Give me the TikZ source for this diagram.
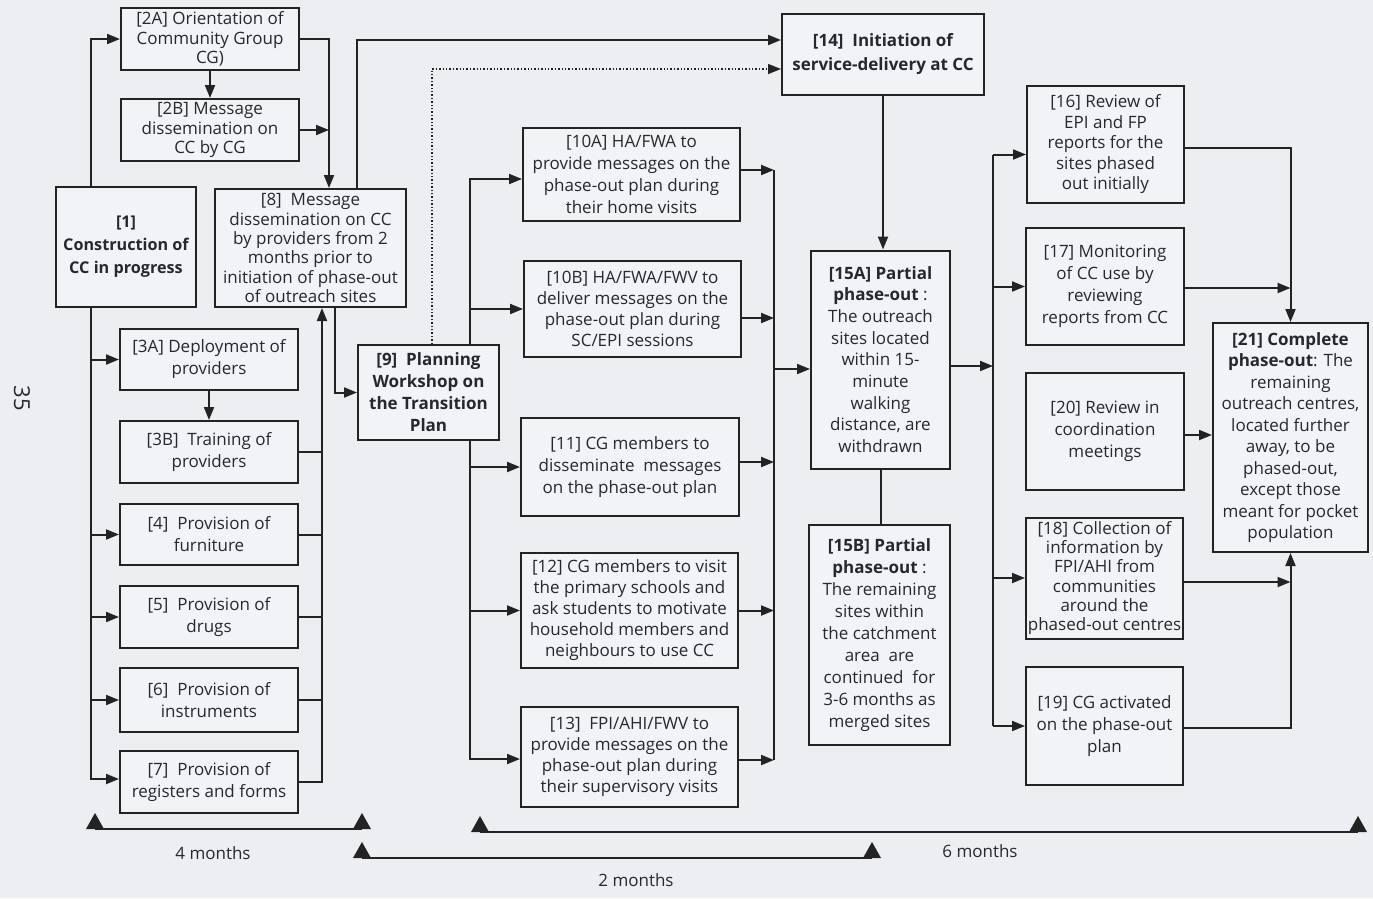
\documentclass[tikz,border=0pt]{standalone}
\usepackage{fontspec}
\setmainfont{Open Sans}
\usetikzlibrary{arrows.meta,calc}
\definecolor{bg}{RGB}{236,238,241}
\definecolor{boxbg}{RGB}{241,243,246}
\definecolor{ink}{RGB}{35,35,35}
\definecolor{txt}{RGB}{40,40,44}
\tikzset{
  box/.style={draw=ink, line width=2pt, fill=boxbg, text=txt, align=center, inner sep=0pt, font=\fontsize{17}{21}\selectfont},
  sz/.style 2 args={minimum width=#1pt, minimum height=#2pt},
  ls/.style={font=\fontsize{17}{#1}\selectfont},
  bls/.style={font=\fontsize{17}{#1}\selectfont\bfseries},
  arr/.style={draw=ink, line width=2pt, -{Triangle[length=13pt,width=10pt]}},
  ln/.style={draw=ink, line width=2pt},
  dotarr/.style={draw=ink, line width=1.4pt, dotted, -{Triangle[length=13pt,width=10pt]}},
  tl/.style={draw=ink, line width=2.5pt},
  tmark/.pic={\fill[ink] (-9,0) -- (9,0) -- (0,-16) -- cycle;},
  lab/.style={text=txt, font=\fontsize{17}{20}\selectfont},
}
\begin{document}
\begin{tikzpicture}[x=1pt,y=-1pt]
\useasboundingbox (0,0) rectangle (1373,898);
\fill[bg] (0,0) rectangle (1373,898);

% ---- nodes ----
\node[box, sz={178}{62}, ls=19.5] (n2A) at (210,39) {[2A] Orientation of\\Community Group\\CG)};
\node[box, sz={178}{62}, ls=19.5] (n2B) at (210,130) {[2B] Message\\dissemination on\\CC by CG};
\node[box, sz={140}{120}, font=\fontsize{16.2}{23}\selectfont\bfseries] (n1) at (126,247) {[1]\\Construction of\\CC in progress};
\node[box, sz={191}{118}, ls=19.3] (n8) at (310.5,248) {[8]\ \ Message\\dissemination on CC\\by providers from 2\\months prior to\\initiation of phase-out\\of outreach sites};
\node[box, sz={178}{61}, ls=22] (n3A) at (209,359.5) {[3A] Deployment of\\providers};
\node[box, sz={178}{62}, ls=22] (n3B) at (209,452) {[3B]\ \ Training of\\providers};
\node[box, sz={178}{61}, ls=22] (n4) at (209,534.5) {[4]\ \ Provision of\\furniture};
\node[box, sz={178}{62}, ls=22] (n5) at (209,617) {[5]\ \ Provision of\\drugs};
\node[box, sz={178}{64}, ls=22] (n6) at (209,700) {[6]\ \ Provision of\\instruments};
\node[box, sz={178}{62}, ls=22] (n7) at (209,782) {[7]\ \ Provision of\\registers and forms};
\node[box, sz={141}{95}, bls=22] (n9) at (428.5,392.5) {[9]\ \ Planning\\Workshop on\\the Transition\\Plan};
\node[box, sz={217}{93}, ls=22] (n10A) at (631.5,174.5) {[10A] HA/FWA to\\provide messages on the\\phase-out plan during\\their home visits};
\node[box, sz={217}{96}, ls=21] (n10B) at (632.5,309) {[10B] HA/FWA/FWV to\\deliver messages on the\\phase-out plan during\\SC/EPI sessions};
\node[box, sz={218}{98}, ls=22] (n11) at (630,467) {[11] CG members to\\disseminate\ \ messages\\on the phase-out plan};
\node[box, sz={217}{115}, ls=21] (n12) at (629.5,610.5) {[12] CG members to visit\\the primary schools and\\ask students to motivate\\household members and\\neighbours to use CC};
\node[box, sz={217}{100}, ls=21] (n13) at (629.5,757) {[13]\ \ FPI/AHI/FWV to\\provide messages on the\\phase-out plan during\\their supervisory visits};
\node[box, sz={202}{81}, bls=24] (n14) at (883,54.5) {[14]\ \ Initiation of\\service-delivery at CC};
\node[box, sz={139}{218}, ls=21.7] (n15A) at (880.5,359.5) {\textbf{[15A] Partial}\\\textbf{phase-out} :\\The outreach\\sites located\\within 15-\\minute\\walking\\distance, are\\withdrawn};
\node[box, sz={141}{220}, ls=22] (n15B) at (879.5,635) {\textbf{[15B] Partial}\\\textbf{phase-out} :\\The remaining\\sites within\\the catchment\\area\ \ are\\continued\ \ for\\3-6 months as\\merged sites};
\node[box, sz={157}{117}, ls=20.5] (n16) at (1105.5,144.5) {[16] Review of\\EPI and FP\\reports for the\\sites phased\\out initially};
\node[box, sz={158}{117}, ls=22] (n17) at (1105,286.5) {[17] Monitoring\\of CC use by\\reviewing\\reports from CC};
\node[box, sz={158}{117}, ls=22] (n20) at (1105,431.5) {[20] Review in\\coordination\\meetings};
\node[box, sz={157}{121}, ls=19.2] (n18) at (1104.5,578) {[18] Collection of\\information by\\FPI/AHI from\\communities\\around the\\phased-out centres};
\node[box, sz={157}{118}, ls=22] (n19) at (1104.5,726) {[19] CG activated\\on the phase-out\\plan};
\node[box, sz={155}{229}, ls=21.5] (n21) at (1290.5,437.5) {\textbf{[21] Complete}\\\textbf{phase-out}: The\\remaining\\outreach centres,\\located further\\away, to be\\phased-out,\\except those\\meant for pocket\\population};

\node[text=txt, font=\fontsize{22}{24}\selectfont, rotate=-90] (pg) at (22,398) {35};

% ---- connectors: left part ----
\draw[arr] ([xshift=-35pt]n1.north) |- (n2A.west);
\draw[arr] (n2A.south) -- (n2B.north);
\coordinate (c8in) at ([xshift=18.5pt]n8.north);
\draw[arr] (n2A.east) -| (c8in);
\draw[arr] (n2B.east) -- (n2B.east -| c8in);
\draw[arr] ([xshift=46.5pt]n8.north) |- ([yshift=14.5pt]n14.west);
\draw[dotarr] ([xshift=3.5pt]n9.north) |- ([yshift=-14.5pt]n14.west);

\draw[arr] ([xshift=-35pt]n1.south) |- (n3A.west);
\draw[arr] ([xshift=-35pt]n1.south) |- (n4.west);
\draw[arr] ([xshift=-35pt]n1.south) |- (n5.west);
\draw[arr] ([xshift=-35pt]n1.south) |- (n6.west);
\draw[arr] ([xshift=-35pt]n1.south) |- ([yshift=3pt]n7.west);
\draw[arr] (n3A.south) -- (n3B.north);

\coordinate (c8b) at ([xshift=11.5pt]n8.south);
\draw[ln] (n3B.east) -- (n3B.east -| c8b);
\draw[ln] (n4.east) -- (n4.east -| c8b);
\draw[ln] (n5.east) -- (n5.east -| c8b);
\draw[ln] (n6.east) -- (n6.east -| c8b);
\draw[arr] (n7.east) -| (c8b);
\draw[arr] ([xshift=24.5pt]n8.south) |- (n9.west);

% ---- connectors: middle ----
\draw[arr] ([xshift=41.5pt]n9.north) |- ([yshift=-4.5pt]n10A.west);
\draw[arr] ([xshift=41.5pt]n9.north) |- (n10B.west);
\draw[arr] ([xshift=41.5pt]n9.south) |- (n11.west);
\draw[arr] ([xshift=41.5pt]n9.south) |- (n12.west);
\draw[arr] ([xshift=41.5pt]n9.south) |- ([yshift=-2pt]n13.west);

\coordinate (cL) at (774,369);
\draw[arr] ([yshift=4.5pt]n10A.east) -- ([yshift=4.5pt]n10A.east -| cL);
\draw[arr] ([yshift=-9pt]n10B.east) -- ([yshift=-9pt]n10B.east -| cL);
\draw[arr] ([yshift=5pt]n11.east) -- ([yshift=5pt]n11.east -| cL);
\draw[arr] (n12.east) -- (n12.east -| cL);
\draw[arr] ([yshift=-3pt]n13.east) -- ([yshift=-3pt]n13.east -| cL);
\draw[ln] ([yshift=4.5pt]n10A.east -| cL) -- ([yshift=-3pt]n13.east -| cL);
\draw[arr] (cL) -- (cL -| n15A.west);

\draw[arr] (n14.south) -- (n14.south |- n15A.north);
\draw[ln] (n15A.south) -- (n15A.south |- n15B.north);

% ---- connectors: right ----
\coordinate (cR) at (993,366);
\draw[arr] (n15A.east |- cR) -- (cR);
\draw[ln] ([yshift=-10pt]n16.west -| cR) -- (n19.west -| cR);
\draw[arr] ([yshift=-10pt]n16.west -| cR) -- ([yshift=-10pt]n16.west);
\draw[arr] (n17.west -| cR) -- (n17.west);
\draw[arr] (n18.west -| cR) -- (n18.west);
\draw[arr] (n19.west -| cR) -- (n19.west);

\draw[arr] ([yshift=-3.5pt]n16.east) -| (n21.north);
\draw[arr] ([yshift=-1.5pt]n17.east) -- ([yshift=-1.5pt]n17.east -| n21.north);
\draw[arr] ([yshift=-3.5pt]n20.east) -- ([yshift=-3.5pt]n20.east -| n21.west);
\draw[arr] ([yshift=-4pt]n18.east) -- ([yshift=-4pt]n18.east -| n21.south);
\draw[arr] ([yshift=-2pt]n19.east) -| (n21.south);

% ---- time lines ----
\coordinate (ta1) at (95,829);
\coordinate (ta2) at (362,829);
\coordinate (tb1) at (362,858);
\coordinate (tb2) at (872,858);
\coordinate (tc1) at (480,832);
\coordinate (tc2) at (1358,832);
\draw[tl] (ta1) -- (ta2);
\draw[tl] (tb1) -- (tb2);
\draw[tl] (tc1) -- (tc2);
\pic at (ta1) {tmark};
\pic at (ta2) {tmark};
\pic at (tb1) {tmark};
\pic at (tb2) {tmark};
\pic at (tc1) {tmark};
\pic at (tc2) {tmark};
\node[lab] (l4) at (213,853) {4 months};
\node[lab] (l2) at (636,880) {2 months};
\node[lab] (l6) at (980,851) {6 months};
\end{tikzpicture}
\end{document}
